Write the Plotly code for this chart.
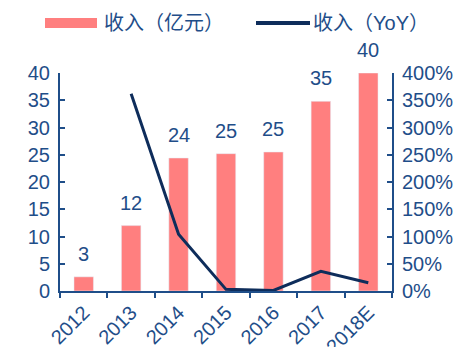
import plotly.graph_objects as go

years = ["2012", "2013", "2014", "2015", "2016", "2017", "2018E"]
revenue = [2.6, 12.0, 24.4, 25.2, 25.5, 34.8, 40.0]          # 收入（亿元）
revenue_labels = ["3", "12", "24", "25", "25", "35", "40"]
yoy_years = ["2013", "2014", "2015", "2016", "2017", "2018E"]
yoy = [362, 104, 3, 1, 36, 15]                                 # 收入（YoY），%

left_ticks = [0, 5, 10, 15, 20, 25, 30, 35, 40]
right_ticks = [0, 50, 100, 150, 200, 250, 300, 350, 400]

TEXT = "#1F4E89"
AXIS = "#1F4E89"
BAR = "#FF7F7F"
LINE = "#0E2D5B"
FONT = "Liberation Sans, Arial, Noto Sans CJK SC, sans-serif"
TICK_SIZE = 20

fig = go.Figure()
fig.add_trace(go.Bar(
    x=years, y=revenue, marker_color=BAR, width=0.41,
    name="收入（亿元）", showlegend=False,
))
fig.add_trace(go.Scatter(
    x=yoy_years, y=yoy, yaxis="y2", mode="lines",
    line=dict(color=LINE, width=3), name="收入（YoY）", showlegend=False,
))

# value labels above the bars (category index keeps "2012" from being read as a number)
for i, (v, t) in enumerate(zip(revenue, revenue_labels)):
    fig.add_annotation(x=i, y=v, text=t, showarrow=False, yanchor="bottom",
                       yshift=10, font=dict(size=TICK_SIZE, color=TEXT, family=FONT))

# legend drawn across the top
fig.add_shape(type="rect", xref="paper", yref="paper",
              x0=(45 - 60) / 332, x1=(97 - 60) / 332,
              y0=(291 - 28) / 218, y1=(291 - 18) / 218,
              fillcolor=BAR, line_width=0)
fig.add_annotation(xref="paper", yref="paper", x=(102 - 60) / 332, y=(291 - 23) / 218,
                   text="收入（亿元）", showarrow=False, xanchor="left", yanchor="middle",
                   font=dict(size=20, color=TEXT, family=FONT))
fig.add_shape(type="line", xref="paper", yref="paper",
              x0=(256 - 60) / 332, x1=(310 - 60) / 332,
              y0=(291 - 23) / 218, y1=(291 - 23) / 218,
              line=dict(color=LINE, width=4))
fig.add_annotation(xref="paper", yref="paper", x=(311 - 60) / 332, y=(291 - 23) / 218,
                   text="收入（YoY）", showarrow=False, xanchor="left", yanchor="middle",
                   font=dict(size=20, color=TEXT, family=FONT))

fig.update_layout(
    width=472, height=347,
    margin=dict(l=60, r=80, t=73, b=56),
    paper_bgcolor="white", plot_bgcolor="white",
    font=dict(family=FONT, size=TICK_SIZE, color=TEXT),
    xaxis=dict(
        type="category", showline=True, linecolor=AXIS, linewidth=2,
        ticks="outside", tickson="boundaries", ticklen=5, tickwidth=2, tickcolor=AXIS,
        tickangle=-45, tickfont=dict(size=TICK_SIZE, color=TEXT), showgrid=False,
        range=[-0.5, 6.5], automargin=False,
    ),
    yaxis=dict(
        range=[0, 40], tickvals=left_ticks, showline=True, linecolor=AXIS, linewidth=2,
        ticks="inside", ticklen=5, tickwidth=2, tickcolor=AXIS, showgrid=False,
        zeroline=False, tickfont=dict(size=TICK_SIZE, color=TEXT), automargin=False,
        ticklabelstandoff=4,
    ),
    yaxis2=dict(
        range=[0, 400], tickvals=right_ticks, ticktext=[f"{v}%" for v in right_ticks],
        overlaying="y", side="right", showline=True, linecolor=AXIS, linewidth=2,
        ticks="inside", ticklen=5, tickwidth=2, tickcolor=AXIS, showgrid=False,
        zeroline=False, tickfont=dict(size=TICK_SIZE, color=TEXT), automargin=False,
        ticklabelstandoff=4,
    ),
    showlegend=False,
)

fig.write_html("out.html")
